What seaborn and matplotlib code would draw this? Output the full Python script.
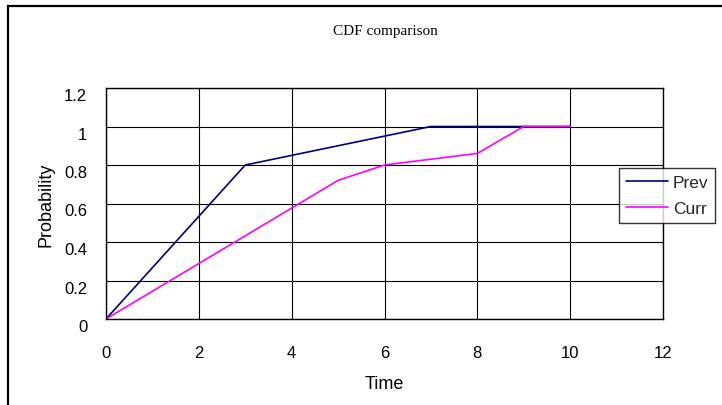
import matplotlib
matplotlib.use("Agg")
import matplotlib.pyplot as plt
import matplotlib.transforms as mtransforms
from matplotlib.patches import Rectangle
import seaborn as sns
import pandas as pd

# data
prev_time = [0, 3, 7, 10]
prev_prob = [0, 0.8, 1.0, 1.0]
curr_time = [0, 5, 6, 8, 9, 10]
curr_prob = [0, 0.72, 0.8, 0.86, 1.0, 1.0]
series_names = ["Prev", "Curr"]
x_ticks = [0, 2, 4, 6, 8, 10, 12]
y_ticks = [0, 0.2, 0.4, 0.6, 0.8, 1.0, 1.2]
y_tick_labels = ["0", "0.2", "0.4", "0.6", "0.8", "1", "1.2"]

df = pd.concat([
    pd.DataFrame({"Time": prev_time, "Probability": prev_prob, "Series": series_names[0]}),
    pd.DataFrame({"Time": curr_time, "Probability": curr_prob, "Series": series_names[1]}),
], ignore_index=True)

sns.set_theme(style="white")
plt.rcParams["font.family"] = ["Liberation Sans", "DejaVu Sans"]

W, H = 722, 406
fig = plt.figure(figsize=(W / 100, H / 100), dpi=100)
fig.patch.set_facecolor("white")
ax = fig.add_axes([106 / W, 1 - 320 / H, (663 - 106) / W, (320 - 89) / H])

palette = {"Prev": "#000080", "Curr": "#FF00FF"}
sns.lineplot(data=df, x="Time", y="Probability", hue="Series", palette=palette,
             hue_order=series_names, sort=False, estimator=None, linewidth=1.2, ax=ax,
             legend=False)

ax.set_xlim(0, 12)
ax.set_ylim(0, 1.2)
ax.set_xticks(x_ticks)
ax.set_xticklabels([str(t) for t in x_ticks])
ax.set_yticks(y_ticks)
ax.set_yticklabels(y_tick_labels)
ax.grid(True, color="black", linewidth=0.8)
ax.set_axisbelow(True)
for s in ax.spines.values():
    s.set_visible(True)
    s.set_color("black")
    s.set_linewidth(1.0)
ax.tick_params(axis="both", length=0, labelsize=12, colors="black")
ax.tick_params(axis="y", pad=13.5)
ax.tick_params(axis="x", pad=19)
# Excel-like downward offset on y labels
off = mtransforms.ScaledTranslation(0, -6 / 100, fig.dpi_scale_trans)
for lab in ax.get_yticklabels():
    lab.set_transform(lab.get_transform() + off)

ax.set_xlabel("Time", fontsize=13, color="black")
ax.set_ylabel("Probability", fontsize=13, color="black")
ax.xaxis.set_label_coords(0.5, -(376 - 320) / (320 - 89))
ax.yaxis.set_label_coords(-(106 - 54) / (663 - 106), 0.5)

fig.text(385 / W, 1 - 32 / H, "CDF comparison", ha="center", va="center",
         fontsize=11, family=["Liberation Serif", "DejaVu Serif"], color="black")

# legend
handles = [plt.Line2D([], [], color=palette[n], linewidth=1.2) for n in series_names]
leg = fig.legend(handles, series_names, loc="upper left",
                 bbox_to_anchor=(619 / W, 1 - 169 / H), frameon=True, fancybox=False,
                 fontsize=12.5, handlelength=2.4, handletextpad=0.3, borderpad=0.4,
                 labelspacing=0.6, borderaxespad=0)
leg.get_frame().set_edgecolor("black")
leg.get_frame().set_linewidth(1.0)

# outer chart border (cut off on right and bottom)
fig.add_artist(Rectangle((8 / W, -0.1), 1.2, 1 - 7 / H + 0.1, transform=fig.transFigure,
                         fill=False, edgecolor="black", linewidth=1.6, clip_on=False))

fig.savefig("out.png", dpi=100)
